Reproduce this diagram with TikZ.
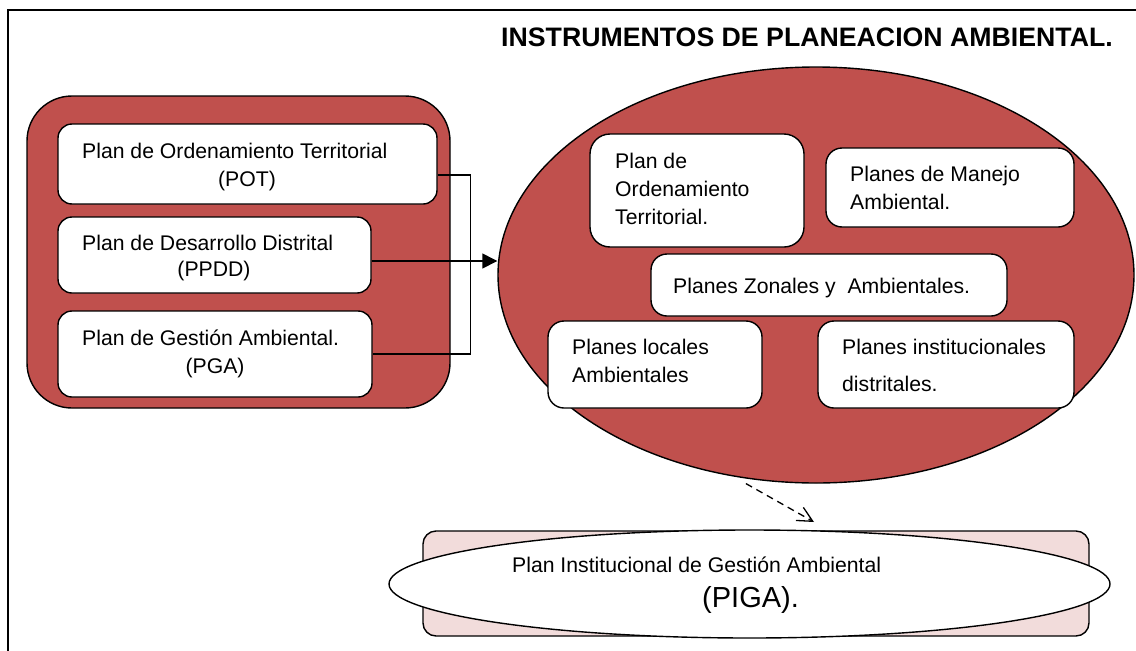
\documentclass[tikz,border=0pt]{standalone}
\usepackage{fontspec}
\setmainfont{Liberation Sans}
\usetikzlibrary{arrows.meta,shapes.geometric}
\definecolor{brick}{HTML}{C0504D}
\definecolor{blush}{HTML}{F2DCDB}
\tikzset{
  outline/.style={draw=black,line width=1.4pt},
  redbox/.style={outline,fill=brick,rounded corners=45pt,inner sep=0pt},
  whitebox/.style={outline,fill=white,rounded corners=14pt,inner sep=0pt},
  roundbox/.style={outline,fill=white,rounded corners=20pt,inner sep=0pt},
  txt/.style={anchor=base west,inner sep=0pt,font=\fontsize{21.2}{27}\selectfont},
  ctxt/.style={anchor=base,inner sep=0pt,font=\fontsize{21.2}{27}\selectfont},
  link/.style={draw=black,line width=1.4pt},
}
\begin{document}
\begin{tikzpicture}[x=1pt,y=-1pt]
\useasboundingbox (0,0) rectangle (1136,651);
% frame
\draw[line width=1.5pt] (8,10) rectangle (1150,665);
% title
\node[anchor=base west,inner sep=0pt,font=\fontsize{26.7}{30}\selectfont\bfseries] (title) at (501,46) {INSTRUMENTOS DE PLANEACION AMBIENTAL.};
% left container
\node[redbox,minimum width=423pt,minimum height=312pt] (lc) at (238.5,252) {};
\node[whitebox,minimum width=379pt,minimum height=80pt] (b1) at (247.5,164) {};
\node[whitebox,minimum width=313pt,minimum height=76pt] (b2) at (214.5,255) {};
\node[whitebox,minimum width=314pt,minimum height=86pt] (b3) at (215,354) {};
\node[txt] (t1a) at (82,158) {Plan de Ordenamiento Territorial};
\node[ctxt] (t1b) at (247,186) {(POT)};
\node[txt] (t2a) at (82,250) {Plan de Desarrollo Distrital};
\node[ctxt] (t2b) at (214,276) {(PPDD)};
\node[txt] (t3a) at (82,345) {Plan de Gestión Ambiental.};
\node[ctxt] (t3b) at (215,373) {(PGA)};
% big ellipse
\node[ellipse,outline,fill=brick,minimum width=636pt,minimum height=416pt,inner sep=0pt] (big) at (816,275) {};
\node[roundbox,minimum width=214pt,minimum height=113pt] (iA) at (697,190.5) {};
\node[whitebox,rounded corners=16pt,minimum width=248pt,minimum height=79pt] (iB) at (950,187.5) {};
\node[whitebox,rounded corners=16pt,minimum width=356pt,minimum height=62pt] (iC) at (829,285) {};
\node[whitebox,rounded corners=16pt,minimum width=214pt,minimum height=87pt] (iD) at (655,364.5) {};
\node[whitebox,rounded corners=16pt,minimum width=256pt,minimum height=87pt] (iE) at (946,364.5) {};
\node[txt] (tA1) at (615,168) {Plan de};
\node[txt] (tA2) at (615,196) {Ordenamiento};
\node[txt] (tA3) at (615,224) {Territorial.};
\node[txt] (tB1) at (850,181) {Planes de Manejo};
\node[txt] (tB2) at (850,209) {Ambiental.};
\node[txt] (tC1) at (673,293) {Planes Zonales y\ \ Ambientales.};
\node[txt] (tD1) at (572,354) {Planes locales};
\node[txt] (tD2) at (572,382) {Ambientales};
\node[txt] (tE1) at (842,354) {Planes institucionales};
\node[txt] (tE2) at (842,391) {distritales.};
% connectors
\coordinate (s1) at ([yshift=-11pt]b1.east);
\coordinate (s2) at ([yshift=-6pt]b2.east);
\draw[link] (s1) -- ++(33,0) |- (b3.east);
\draw[link,-{Triangle[length=15pt,width=15pt]}] (s2) -- (s2 -| big.west);
% bottom
\node[outline,fill=blush,rounded corners=13pt,minimum width=666pt,minimum height=105pt,inner sep=0pt] (pr) at (756,583.5) {};
\node[ellipse,outline,fill=white,minimum width=721pt,minimum height=108pt,inner sep=0pt] (pe) at (749.5,584) {};
\node[txt] (tP1) at (512,572) {Plan Institucional de Gestión Ambiental};
\node[anchor=base west,inner sep=0pt,font=\fontsize{29}{33}\selectfont] (tP2) at (702,607) {(PIGA).};
\coordinate (dstart) at ([yshift=-5pt]big.251);
\coordinate (dend) at (814,522);
\draw[line width=1.3pt,dash pattern=on 7pt off 5pt,-{Straight Barb[length=15pt,width=15pt]}] (dstart) -- (dend);
\end{tikzpicture}
\end{document}
